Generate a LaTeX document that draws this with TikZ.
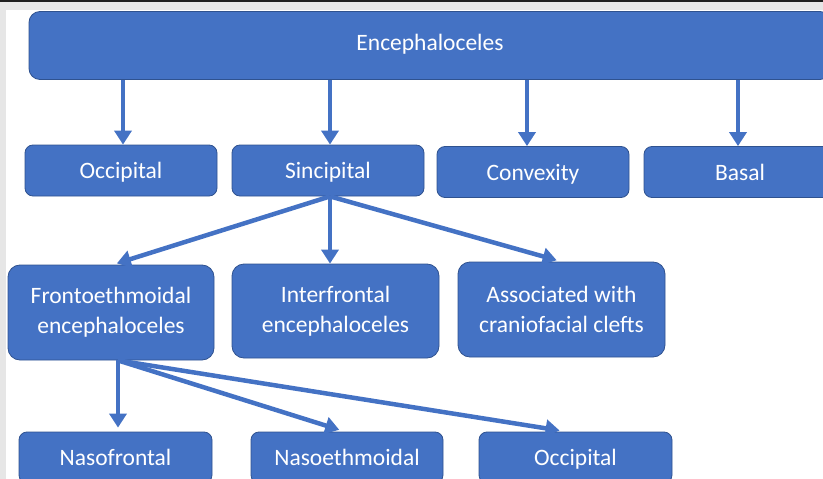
\documentclass[tikz,border=0pt]{standalone}
\usepackage{fontspec}
\setmainfont{Carlito}
\usetikzlibrary{arrows.meta}
\definecolor{boxblue}{HTML}{4472C4}
\definecolor{boxedge}{HTML}{2F528F}
\definecolor{framegray}{HTML}{E6E6E6}
\definecolor{framedark}{HTML}{1E1E1E}
\begin{document}
\begin{tikzpicture}[x=1pt, y=-1pt,
    catbox/.style={draw=boxedge, line width=0.8pt, fill=boxblue, text=white,
        rounded corners=8pt, align=center, inner sep=0pt,
        font=\fontsize{23.5}{30}\selectfont},
    onerow/.style={catbox, minimum width=192pt, minimum height=51pt, text depth=0pt},
    tworow/.style={catbox, rounded corners=12pt, minimum width=207pt, minimum height=95pt},
    arr/.style={draw=boxblue, line width=4.5pt,
        -{Triangle[width=17pt,length=14pt]}}]
    \useasboundingbox (0,0) rectangle (823,479);
    \clip (0,0) rectangle (823,479);
    % frame of the screenshot
    \fill[framegray] (0,0) rectangle (823,10);
    \fill[framegray] (0,0) rectangle (6,479);
    \fill[framedark] (0,0) rectangle (823,2.3);
    % boxes
    \node[catbox, rounded corners=11pt, minimum width=802pt, minimum height=68pt] (enc) at (430,45.5) {\raisebox{6pt}{Encephaloceles}};
    \node[onerow] (occ) at (121,170.5) {Occipital};
    \node[onerow] (sinc) at (328,170.5) {Sincipital};
    \node[onerow] (conv) at (533,172) {Convexity};
    \node[onerow] (bas) at (740,172) {Basal};
    \node[tworow, minimum width=206pt] (fronto) at (111,312.5) {Frontoethmoidal\\encephaloceles};
    \node[tworow, minimum height=94pt] (inter) at (335.5,311) {Interfrontal\\encephaloceles};
    \node[tworow] (assoc) at (561.5,309.5) {Associated with\\craniofacial clefts};
    \node[onerow, minimum width=193pt] (nasof) at (115.5,457.5) {Nasofrontal};
    \node[onerow] (nasoe) at (347,457.5) {Nasoethmoidal};
    \node[onerow, minimum width=193pt] (occb) at (575.5,457.5) {Occipital};
    % arrows from the top box
    \draw[arr] ([xshift=2pt]occ.north |- enc.south) -- ([xshift=2pt]occ.north);
    \draw[arr] ([xshift=2pt]sinc.north |- enc.south) -- ([xshift=2pt]sinc.north);
    \draw[arr] ([xshift=-6pt]conv.north |- enc.south) -- ([xshift=-6pt]conv.north);
    \draw[arr] ([xshift=-2pt]bas.north |- enc.south) -- ([xshift=-2pt]bas.north);
    % arrows from Sincipital
    \coordinate (ss) at ([xshift=2pt]sinc.south);
    \draw[arr, shorten >=4pt] (ss) -- ([xshift=2pt]fronto.north);
    \draw[arr] (ss) -- (ss |- inter.north);
    \draw[arr, shorten >=5pt] (ss) -- (assoc.north);
    % arrows from Frontoethmoidal
    \coordinate (fs) at ([xshift=7pt]fronto.south);
    \draw[arr, shorten >=4pt] (fs) -- (fs |- nasof.north);
    \draw[arr, shorten >=6pt] (fs) -- ([xshift=-2pt]nasoe.north);
    \draw[arr, shorten >=7pt] (fs) -- ([xshift=-9pt]occb.north);
\end{tikzpicture}
\end{document}
